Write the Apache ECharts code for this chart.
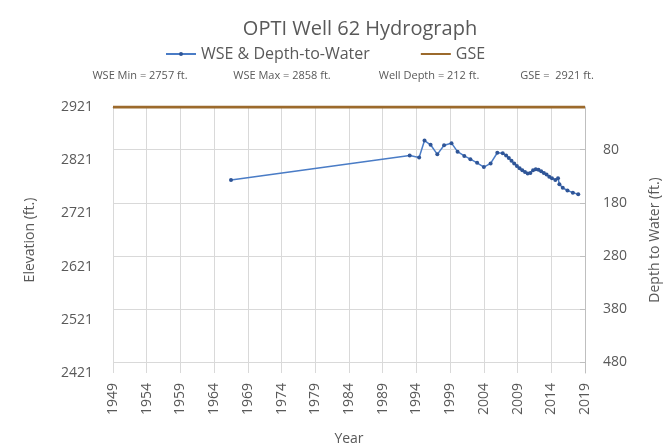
<!DOCTYPE html>
<html>
<head>
<meta charset="utf-8">
<script src="https://cdn.jsdelivr.net/npm/echarts@6/dist/echarts.min.js"></script>
<style>
  html, body { margin: 0; padding: 0; background: #fff; }
  #main { width: 666px; height: 447px; }
</style>
</head>
<body>
<div id="main"></div>
<script>
// well measurements (year, water surface elevation)
const wseYears = [1966.5, 1993.0, 1994.4, 1995.2, 1996.1, 1997.1, 1998.1, 1999.2, 2000.1, 2001.1,
  2002.0, 2003.0, 2004.0, 2005.0, 2006.0, 2006.8, 2007.3, 2007.7, 2008.1, 2008.5,
  2008.9, 2009.3, 2009.7, 2010.1, 2010.5, 2010.9, 2011.3, 2011.7, 2012.1, 2012.5,
  2012.9, 2013.3, 2013.7, 2014.1, 2014.6, 2015.0, 2015.2, 2015.7, 2016.4, 2017.2, 2018.0];
const wseValues = [2784, 2830, 2826, 2858, 2850, 2832, 2849, 2853, 2837, 2829,
  2823, 2816, 2808, 2815, 2835, 2834, 2830, 2825, 2820, 2815,
  2810, 2806, 2802, 2799, 2796, 2797, 2802, 2804, 2803, 2800,
  2797, 2794, 2790, 2787, 2784, 2787, 2776, 2769, 2764, 2760, 2757];
const gseYears = [1949, 2019];
const gseValues = [2921, 2921];
const elevTicks = [2421, 2521, 2621, 2721, 2821, 2921];
const depthTicks = [80, 180, 280, 380, 480];
const statLabels = ['WSE Min = 2757 ft.', 'WSE Max = 2858 ft.', 'Well Depth = 212 ft.', 'GSE =  2921 ft.'];

const txt = '#595959';
const font = '"Open Sans", "Noto Sans", sans-serif';

let chart = echarts.init(document.getElementById('main'));

// centre of each stat label
const statX = [140, 282, 429, 557];

let option = {
  backgroundColor: '#fff',
  textStyle: { fontFamily: font },
  title: {
    text: 'OPTI Well 62 Hydrograph',
    left: 355, top: 14, textAlign: 'center',
    textStyle: { color: txt, fontSize: 20, fontWeight: 'normal', fontFamily: font }
  },
  legend: {
    top: 41, left: 160,
    itemWidth: 30, itemHeight: 5, itemGap: 50,
    textStyle: { color: txt, fontSize: 16, fontFamily: font },
    data: ['WSE & Depth-to-Water', { name: 'GSE', itemStyle: { opacity: 0 } }]
  },
  graphic: statLabels.map((s, i) => ({
    type: 'text', x: statX[i], y: 70,
    style: { text: s, fill: txt, fontSize: 11, fontFamily: '"Liberation Sans Narrow", ' + font, align: 'center', textAlign: 'center' }
  })),
  grid: { left: 113, right: 81, top: 107, bottom: 74, outerBoundsMode: 'none' },
  xAxis: {
    type: 'value', min: 1949, max: 2019, interval: 5,
    name: 'Year', nameLocation: 'middle', nameGap: 59,
    nameTextStyle: { color: txt, fontSize: 14 },
    axisLine: { show: true, lineStyle: { color: '#bfbfbf' } },
    axisTick: { show: false },
    axisLabel: { rotate: 90, color: txt, fontSize: 14, margin: 10, formatter: v => String(v) },
    splitLine: { show: true, lineStyle: { color: '#d9d9d9' } }
  },
  yAxis: [
    {
      type: 'value', min: 2421, max: 2921, interval: 100,
      name: 'Elevation (ft.)', nameLocation: 'middle', nameGap: 76,
      nameTextStyle: { color: txt, fontSize: 14 },
      axisLine: { show: false },
      axisTick: { show: false },
      axisLabel: { color: txt, fontSize: 14, margin: 20, customValues: elevTicks, formatter: v => String(v) },
      splitLine: { show: false }
    },
    {
      type: 'value', min: 0, max: 500, inverse: true, position: 'right',
      name: 'Depth to Water (ft.)', nameLocation: 'middle', nameGap: 63, nameRotate: 90,
      nameTextStyle: { color: txt, fontSize: 14 },
      axisLine: { show: true, lineStyle: { color: '#bfbfbf' } },
      axisTick: { show: true, inside: true, length: 5, lineStyle: { color: '#bfbfbf' }, customValues: depthTicks },
      axisLabel: { color: txt, fontSize: 14, margin: 18, customValues: depthTicks, formatter: v => String(v) },
      splitLine: { show: true, lineStyle: { color: '#d9d9d9' } }
    }
  ],
  series: [
    {
      name: 'WSE & Depth-to-Water', type: 'line', yAxisIndex: 0,
      data: wseYears.map((y, i) => [y, wseValues[i]]),
      symbol: 'circle', symbolSize: 4, showSymbol: true,
      lineStyle: { color: '#4a7cc6', width: 1.5 },
      itemStyle: { color: '#2f5597' },
      z: 3
    },
    {
      name: 'GSE', type: 'line', yAxisIndex: 0,
      data: gseYears.map((y, i) => [y, gseValues[i]]),
      symbol: 'none',
      lineStyle: { color: '#9c6a2c', width: 3 },
      itemStyle: { color: '#9c6a2c' },
      z: 2
    }
  ]
};
chart.setOption(option);
</script>
</body>
</html>
